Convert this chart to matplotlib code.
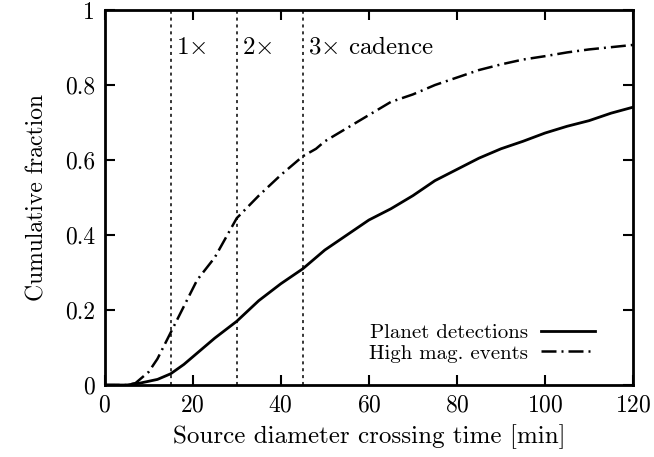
import matplotlib
matplotlib.use('Agg')
from matplotlib import pyplot as plt

# crossing time [min] and cumulative fraction
t_planet = [0, 5, 8, 10, 12, 15, 18, 20, 25, 30, 35, 40, 45, 50, 55, 60, 65,
            70, 75, 80, 85, 90, 95, 100, 105, 110, 115, 120]
f_planet = [0, 0, 0.005, 0.01, 0.015, 0.03, 0.055, 0.075, 0.125, 0.17, 0.225,
            0.27, 0.31, 0.36, 0.40, 0.44, 0.47, 0.505, 0.545, 0.575, 0.605,
            0.63, 0.65, 0.672, 0.69, 0.705, 0.725, 0.741]

t_highmag = [0, 5, 7, 10, 12, 15, 18, 21, 25, 30, 35, 40, 45, 48, 50, 55, 60,
             65, 70, 75, 80, 85, 90, 95, 100, 105, 110, 115, 120]
f_highmag = [0, 0, 0.005, 0.035, 0.07, 0.14, 0.21, 0.28, 0.34, 0.445, 0.505,
             0.56, 0.61, 0.63, 0.65, 0.685, 0.72, 0.755, 0.775, 0.80, 0.82,
             0.84, 0.855, 0.868, 0.877, 0.887, 0.895, 0.901, 0.907]

cadences = [15, 30, 45]
cadence_labels = [r'1$\times$', r'2$\times$', r'3$\times$ cadence']

plt.rcParams['font.family'] = 'serif'
plt.rcParams['font.serif'] = ['cmr10']
plt.rcParams['mathtext.fontset'] = 'cm'
plt.rcParams['axes.formatter.use_mathtext'] = True

fig = plt.figure(figsize=(6.54, 4.57), dpi=100)
ax = fig.add_axes([0.16, 0.1575, 0.808, 0.8205])

ax.plot(t_planet, f_planet, color='black', lw=2.0, label='Planet detections')
ax.plot(t_highmag, f_highmag, color='black', lw=1.8, dashes=[6, 2, 0.8, 2],
        label='High mag. events')

for c, lb in zip(cadences, cadence_labels):
    ax.axvline(c, color='black', lw=1.1, linestyle=(0, (2, 2.5)))
    ax.text(c + 1.2, 0.9, lb, fontsize=18, va='center', ha='left')

ax.set_xlim(0, 120)
ax.set_ylim(0, 1)
ax.set_xticks([0, 20, 40, 60, 80, 100, 120])
ax.set_yticks([0, 0.2, 0.4, 0.6, 0.8, 1])
ax.set_yticklabels(['0', '0.2', '0.4', '0.6', '0.8', '1'])
ax.tick_params(direction='in', length=7, width=1.5, top=True, right=True,
               labelsize=17, pad=7)
for s in ax.spines.values():
    s.set_linewidth(2)

ax.set_xlabel('Source diameter crossing time [min]', fontsize=18, labelpad=5)
ax.set_ylabel('Cumulative fraction', fontsize=17, labelpad=12)

ax.legend(loc='lower right', bbox_to_anchor=(0.928, 0.06), frameon=False,
          markerfirst=False, fontsize=15, handlelength=2.6,
          labelspacing=0.1, borderpad=0, borderaxespad=0, handletextpad=0.6)

fig.savefig('out.png', dpi=100)
